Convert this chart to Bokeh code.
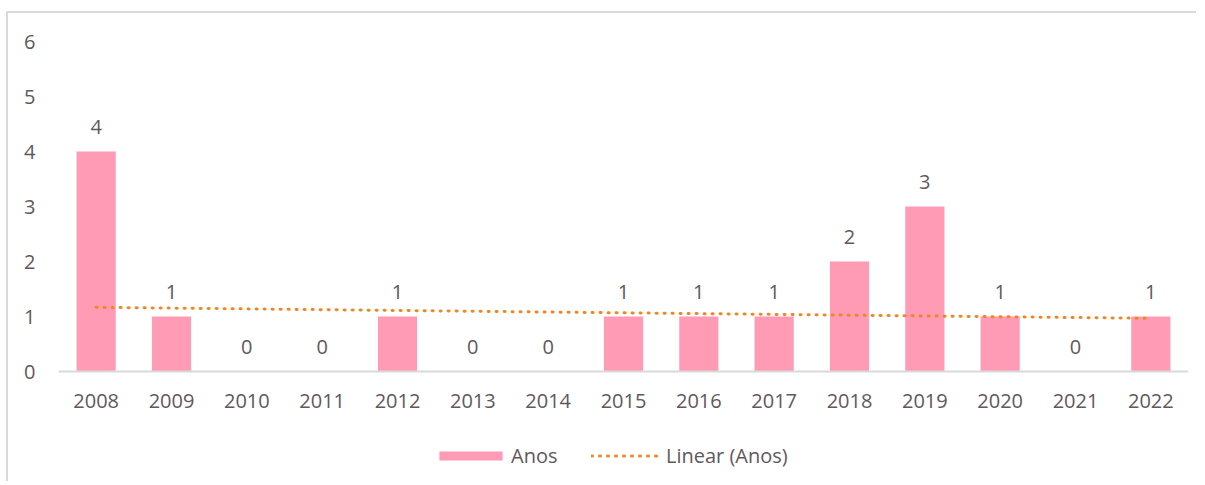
from bokeh.plotting import figure
from bokeh.models import ColumnDataSource, Legend, LegendItem, FactorRange, Range1d
from bokeh.embed import file_html
from bokeh.resources import INLINE
from bokeh.core.properties import value
import numpy as np

years = ["2008", "2009", "2010", "2011", "2012", "2013", "2014", "2015",
         "2016", "2017", "2018", "2019", "2020", "2021", "2022"]
counts = [4, 1, 0, 0, 1, 0, 0, 1, 1, 1, 2, 3, 1, 0, 1]
y_ticks = [0, 1, 2, 3, 4, 5, 6]

FONT = "Open Sans"
TXT = "#62585b"
BAR = "#FF9BB4"
TREND = "#F5841F"

# linear trendline (Excel "Linear" trendline)
xi = np.arange(1, len(counts) + 1)
slope, intercept = np.polyfit(xi, np.array(counts, dtype=float), 1)
trend = list(intercept + slope * xi)

src = ColumnDataSource(dict(year=years, n=counts, lab=[str(c) for c in counts], trend=trend))

# frame extends below the category axis so the legend can sit inside it
H = 470
TOP = 28
BOTTOM = 4
PX_PER_UNIT = 55.0
frame_h = H - TOP - BOTTOM
y_lo = 6 - frame_h / PX_PER_UNIT

p = figure(width=1190, height=H, x_range=FactorRange(*years, range_padding=0),
           y_range=Range1d(y_lo, 6), output_backend="svg", toolbar_location=None,
           min_border_left=50, min_border_right=10, min_border_top=TOP,
           min_border_bottom=BOTTOM)
p.styles = {"border-left": "2px solid #d9d9d9", "border-top": "2px solid #d9d9d9",
            "margin-top": "11px", "margin-left": "6px"}
p.outline_line_color = None
p.grid.grid_line_color = None

bars = p.vbar(x="year", top="n", width=0.52, source=src, fill_color=BAR, line_color=None)
tl = p.line(x="year", y="trend", source=src, line_color=TREND, line_width=3,
            line_dash="1 7", line_cap="round")
p.text(x="year", y="n", text="lab", source=src, text_font=value(FONT),
       text_font_size="20px", text_color=TXT, text_align="center",
       text_baseline="middle", y_offset=-25)

p.yaxis.ticker = y_ticks
p.yaxis.axis_line_color = None
p.yaxis.major_tick_line_color = None
p.yaxis.minor_tick_line_color = None
p.yaxis.major_label_standoff = 17
p.xaxis.fixed_location = 0
p.xaxis.axis_line_color = "#d9d9d9"
p.xaxis.axis_line_width = 2
p.xaxis.major_tick_line_color = None
p.xaxis.minor_tick_line_color = None
p.xaxis.major_label_standoff = 16
for ax in (p.xaxis[0], p.yaxis[0]):
    ax.major_label_text_font = FONT
    ax.major_label_text_font_size = "20px"
    ax.major_label_text_color = TXT

common = dict(orientation="horizontal", glyph_height=11, padding=0, margin=0,
              border_line_color=None, background_fill_alpha=0,
              label_text_font=FONT, label_text_font_size="20px", label_text_color=TXT)
leg_bar = Legend(items=[LegendItem(label="Anos", renderers=[bars])],
                 location=(373, 10), glyph_width=79, label_standoff=1, **common)
leg_line = Legend(items=[LegendItem(label="Linear (Anos)", renderers=[tl])],
                  location=(533, 10), glyph_width=67, label_standoff=8, **common)
p.add_layout(leg_bar, "center")
p.add_layout(leg_line, "center")

open("out.html", "w").write(file_html(p, INLINE))
